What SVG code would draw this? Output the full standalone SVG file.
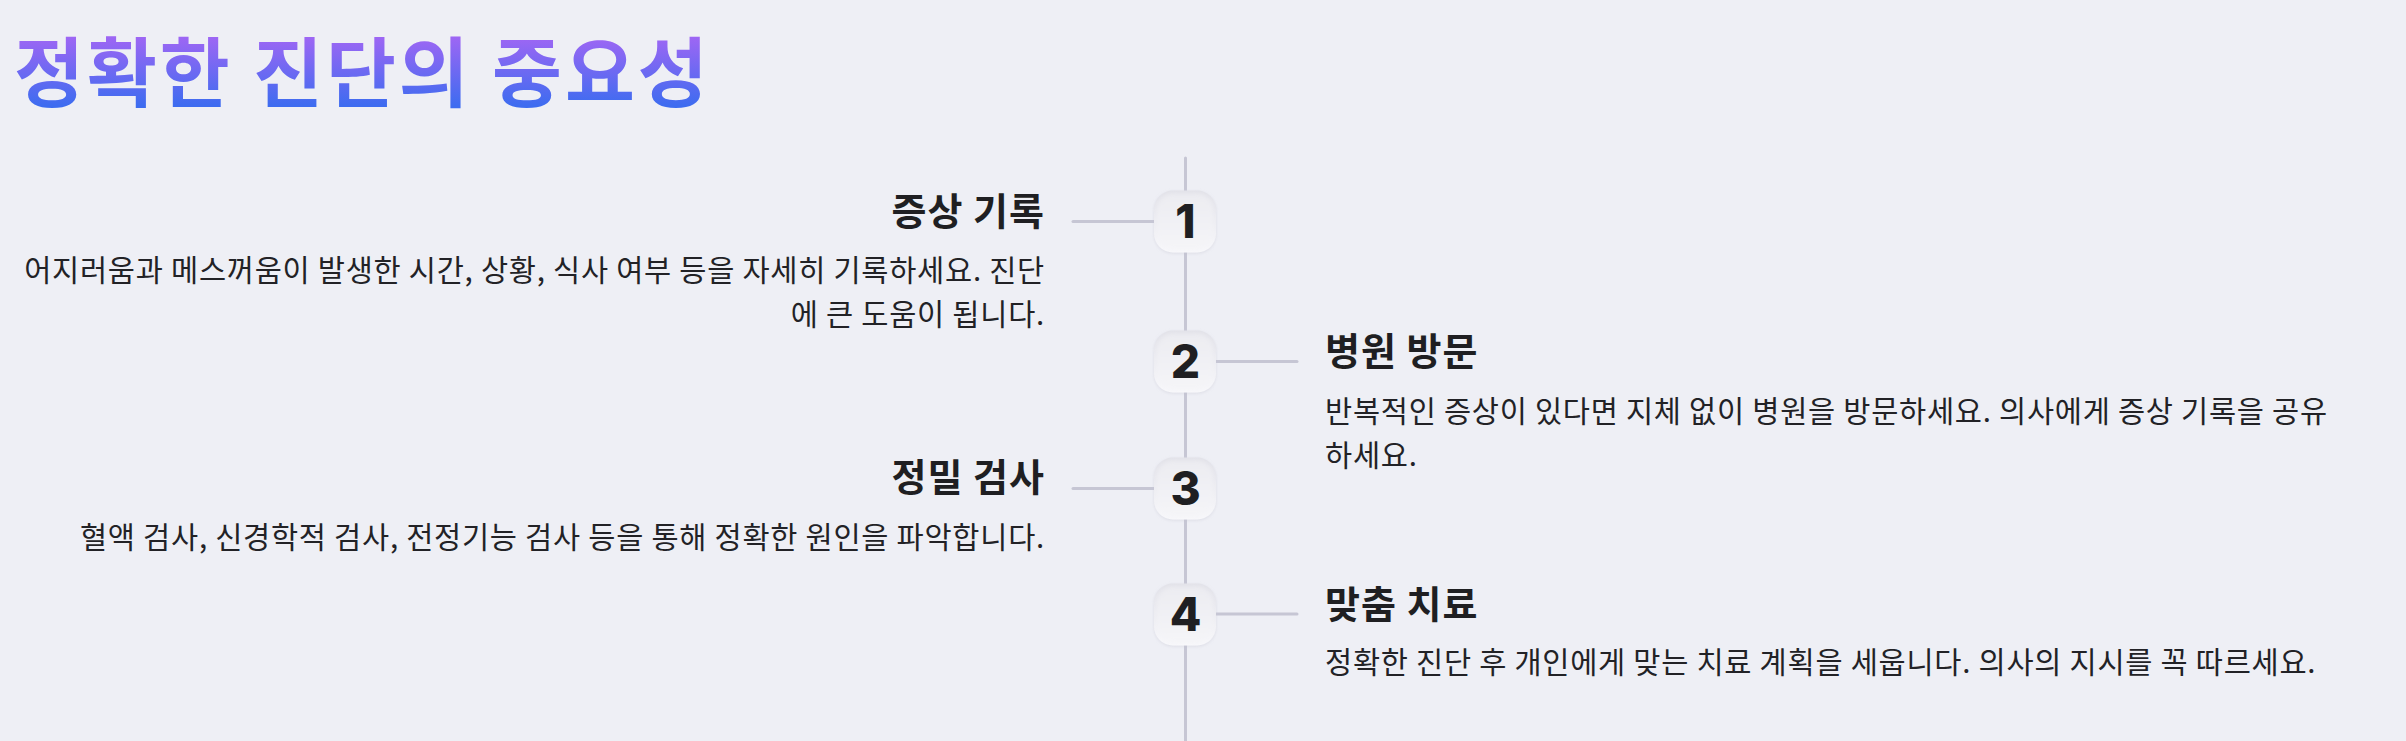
<svg xmlns="http://www.w3.org/2000/svg" width="2406" height="741" viewBox="0 0 2406 741">
  <defs>
    <linearGradient id="titleGrad" gradientUnits="userSpaceOnUse" x1="0" y1="34" x2="0" y2="106">
      <stop offset="0" stop-color="#a266f4"/>
      <stop offset="1" stop-color="#3d6cf0"/>
    </linearGradient>
    <linearGradient id="boxGrad" x1="0" y1="0" x2="0" y2="1">
      <stop offset="0" stop-color="#e1e1e8"/>
      <stop offset="0.5" stop-color="#ededf2"/>
      <stop offset="1" stop-color="#f8f8fb"/>
    </linearGradient>
    <linearGradient id="boxInner" x1="0" y1="0" x2="0" y2="1">
      <stop offset="0" stop-color="#ececf1"/>
      <stop offset="1" stop-color="#f5f5f8"/>
    </linearGradient>
    <filter id="soft" x="-30%" y="-30%" width="160%" height="160%">
      <feGaussianBlur stdDeviation="2"/>
    </filter>
    <filter id="shadow" x="-30%" y="-30%" width="160%" height="160%">
      <feDropShadow dx="0" dy="1" stdDeviation="1.5" flood-color="#b8b8c8" flood-opacity="0.35"/>
    </filter>
  </defs>
  <style>
    .title { font-family: "Noto Sans CJK KR", "Noto Sans", sans-serif; font-weight: 700; font-size: 76px; letter-spacing: 3px; fill: url(#titleGrad); }
    .head { font-family: "Noto Sans CJK KR", "Noto Sans", sans-serif; font-weight: 700; font-size: 38px; letter-spacing: 1px; fill: #1f1f22; }
    .desc { font-family: "Noto Sans CJK KR", "Noto Sans", sans-serif; font-weight: 400; font-size: 29.5px; letter-spacing: 0.75px; fill: #222226; }
    .num { font-family: Inter, "Liberation Sans", sans-serif; font-weight: 800; font-size: 46px; fill: #1f1f22; text-anchor: middle; }
    .conn { stroke: #c6c6d4; stroke-width: 3; stroke-linecap: round; fill: none; }
    .left { text-anchor: end; }
  </style>
  <rect width="2406" height="741" fill="#eeeff5"/>
  <text class="title" x="14" y="101">정확한 진단의 중요성</text>

  <g id="connectors">
    <line class="conn" x1="1185.5" y1="158" x2="1185.5" y2="745"/>
    <line class="conn" x1="1073" y1="221.5" x2="1160" y2="221.5"/>
    <line class="conn" x1="1210" y1="361.5" x2="1297" y2="361.5"/>
    <line class="conn" x1="1073" y1="488.5" x2="1160" y2="488.5"/>
    <line class="conn" x1="1210" y1="614" x2="1297" y2="614"/>
  </g>

  <g id="step1">
    <g filter="url(#shadow)">
      <rect x="1154" y="190.5" width="62" height="62" rx="19" fill="url(#boxGrad)"/>
    </g>
    <rect x="1157" y="193.5" width="56" height="56" rx="16" fill="url(#boxInner)" filter="url(#soft)"/>
    <text class="num" x="1185.5" y="238">1</text>
    <text class="head left" x="1045" y="225">증상 기록</text>
    <text class="desc left" x="1045" y="281">어지러움과 메스꺼움이 발생한 시간, 상황, 식사 여부 등을 자세히 기록하세요. 진단</text>
    <text class="desc left" x="1045" y="325">에 큰 도움이 됩니다.</text>
  </g>

  <g id="step2">
    <g filter="url(#shadow)">
      <rect x="1154" y="330.5" width="62" height="62" rx="19" fill="url(#boxGrad)"/>
    </g>
    <rect x="1157" y="333.5" width="56" height="56" rx="16" fill="url(#boxInner)" filter="url(#soft)"/>
    <text class="num" x="1185.5" y="378">2</text>
    <text class="head" x="1325" y="365">병원 방문</text>
    <text class="desc" x="1325" y="422">반복적인 증상이 있다면 지체 없이 병원을 방문하세요. 의사에게 증상 기록을 공유</text>
    <text class="desc" x="1325" y="466">하세요.</text>
  </g>

  <g id="step3">
    <g filter="url(#shadow)">
      <rect x="1154" y="457.5" width="62" height="62" rx="19" fill="url(#boxGrad)"/>
    </g>
    <rect x="1157" y="460.5" width="56" height="56" rx="16" fill="url(#boxInner)" filter="url(#soft)"/>
    <text class="num" x="1185.5" y="505">3</text>
    <text class="head left" x="1045" y="491">정밀 검사</text>
    <text class="desc left" x="1045" y="548">혈액 검사, 신경학적 검사, 전정기능 검사 등을 통해 정확한 원인을 파악합니다.</text>
  </g>

  <g id="step4">
    <g filter="url(#shadow)">
      <rect x="1154" y="583.5" width="62" height="62" rx="19" fill="url(#boxGrad)"/>
    </g>
    <rect x="1157" y="586.5" width="56" height="56" rx="16" fill="url(#boxInner)" filter="url(#soft)"/>
    <text class="num" x="1185.5" y="631">4</text>
    <text class="head" x="1325" y="618">맞춤 치료</text>
    <text class="desc" x="1325" y="673">정확한 진단 후 개인에게 맞는 치료 계획을 세웁니다. 의사의 지시를 꼭 따르세요.</text>
  </g>
</svg>
